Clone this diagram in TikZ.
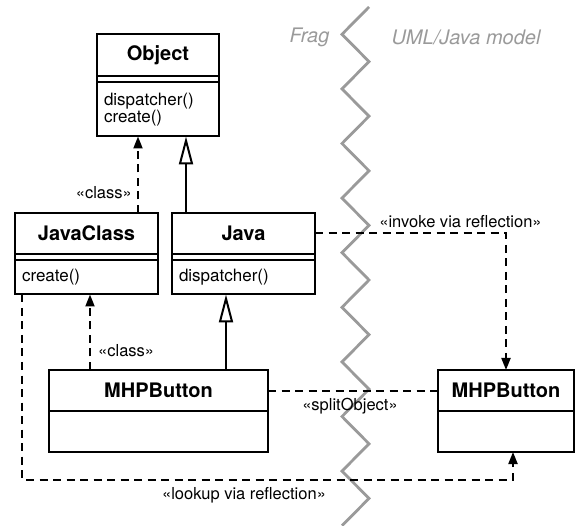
\documentclass[tikz,border=0pt]{standalone}
\usepackage{fontspec}
\setmainfont{TeX Gyre Heros}
\usetikzlibrary{positioning,arrows.meta}

\definecolor{fraggray}{HTML}{9A9A9A}

\tikzset{
  box/.style={draw, line width=2pt, outer sep=0pt, inner sep=0pt},
  cname/.style={box, minimum height=41pt, font=\bfseries\fontsize{20}{24}\selectfont},
  cattr/.style={box, minimum height=6.5pt},
  cops/.style={box, inner xsep=7pt, inner ysep=0pt, align=left, font=\fontsize{17}{14}\selectfont},
  stereo/.style={inner sep=0pt, font=\fontsize{16.5}{18}\selectfont},
  side/.style={inner sep=0pt, text=fraggray, font=\itshape\fontsize{20}{24}\selectfont},
  link/.style={line width=2pt, dash pattern=on 8pt off 5.5pt},
  dep/.style={link, -{Triangle[length=12pt,width=9pt]}},
  gen/.style={line width=2pt, -{Triangle[open,length=28pt,width=14pt,fill=white]}},
  fragline/.style={line width=2.8pt, draw=fraggray},
}

\begin{document}
\begin{tikzpicture}[x=1pt,y=-1pt]
\useasboundingbox (0,0) rectangle (578,526);
% the border between the two models goes first,
% so that the connectors and labels lie over it
\draw[fragline] (369,7) \foreach \k in {1,...,19}{ -- ({369-27*mod(\k,2)},{7+27.3*\k}) };
\node[side] (fragl) at (309.5,37) {Frag};
\node[side] (fragr) at (466,37) {UML/Java model};

% classes: name, (empty) attributes, operations
\node[cname, minimum width=122pt, minimum height=42pt, anchor=north] (obj) at (158,34) {Object};
\node[cattr, minimum width=122pt, below=0pt of obj] (objattr) {};
\node[cops, text width=108pt, minimum height=54pt, below=0pt of objattr] (objops) {dispatcher()\\create()};

\node[cname, minimum width=143pt, anchor=north] (jc) at (86.5,213) {JavaClass};
\node[cattr, minimum width=143pt, below=0pt of jc] (jcattr) {};
\node[cops, text width=129pt, minimum height=34pt, below=0pt of jcattr] (jcops) {create()};

\node[cname, minimum width=143pt, right=14pt of jc] (jv) {Java};
\node[cattr, minimum width=143pt, below=0pt of jv] (jvattr) {};
\node[cops, text width=129pt, minimum height=34pt, below=0pt of jvattr] (jvops) {dispatcher()};

\node[cname, minimum width=219pt, anchor=north] (mhp) at (158.5,370) {MHPButton};
\node[box, minimum width=219pt, minimum height=41pt, below=0pt of mhp] (mhpbody) {};

\node[cname, minimum width=136pt, right=170pt of mhp] (rmhp) {MHPButton};
\node[box, minimum width=136pt, minimum height=41pt, below=0pt of rmhp] (rmhpbody) {};

% connectors
\draw[dep] ([xshift=51.5pt]jc.north) -- ([xshift=-20pt]objops.south);
\draw[gen] ([xshift=-57.5pt]jv.north) -- ([xshift=28pt]objops.south);
\draw[dep] ([xshift=-68.5pt]mhp.north) -- ([xshift=3.5pt]jcops.south);
\draw[gen] ([xshift=67.5pt]mhp.north) -- ([xshift=-17.5pt]jvops.south);
\draw[link] (mhp.east) -- (rmhp.west);
\draw[dep] (jv.east) -| (rmhp.north);
\draw[dep] ([xshift=-64.5pt]jcops.south) -- ++(0,185) -| ([xshift=7pt]rmhpbody.south);

% stereotypes
\node[stereo, anchor=east] (cls1) at (132,193) {«class»};
\node[stereo, anchor=west] (cls2) at (98,351) {«class»};
\node[stereo] (split) at (350,406) {«splitObject»};
\node[stereo] (invoke) at (460.5,222) {«invoke via reflection»};
\node[stereo] (lookup) at (244,495) {«lookup via reflection»};
\end{tikzpicture}
\end{document}
